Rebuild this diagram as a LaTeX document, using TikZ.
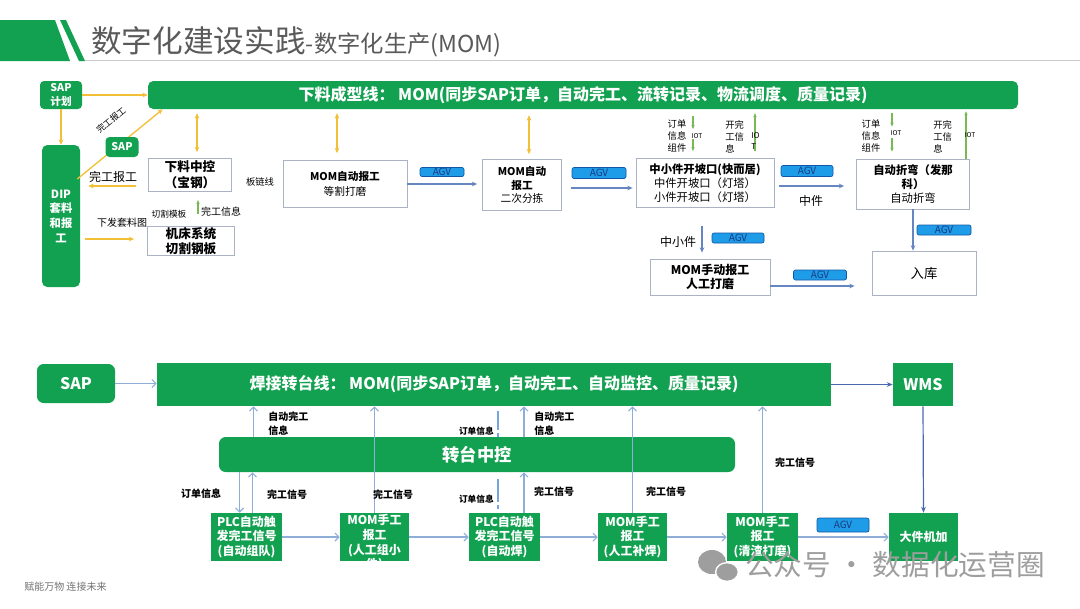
\documentclass[tikz,border=0pt]{standalone}
\usepackage{fontspec}
\setmainfont{Noto Sans CJK SC}
\usepackage{tikz}
\usetikzlibrary{arrows.meta,calc}
\definecolor{mgreen}{HTML}{12A150}
\definecolor{myellow}{HTML}{F2C037}
\definecolor{mblue}{HTML}{6586C0}
\definecolor{lblue}{HTML}{8EAED8}
\definecolor{dblue}{HTML}{4A68B0}
\definecolor{agvfill}{HTML}{1E9CE8}
\definecolor{agvline}{HTML}{1258A8}
\definecolor{agvtext}{HTML}{1A3A80}
\definecolor{boxline}{HTML}{A9B3C4}
\definecolor{iotgreen}{HTML}{78B956}
\definecolor{titlegrey}{HTML}{5A5A5A}
\definecolor{exblue}{HTML}{79A6DA}
\colorlet{footgrey}{black!55}
\colorlet{markgrey}{black!38}

\begin{document}
\begin{tikzpicture}[x=0.75pt,y=-0.75pt,
    gbox/.style={fill=mgreen,text=white,align=center,inner sep=0pt,
                 font=\bfseries\fontsize{9}{11}\selectfont},
    wbox/.style={draw=boxline,line width=0.6pt,fill=white,align=center,inner sep=0pt,
                 font=\fontsize{8.5}{10.5}\selectfont},
    sz/.style 2 args={minimum width=#1*0.75pt,minimum height=#2*0.75pt},
    agv/.style={fill=agvfill,draw=agvline,line width=0.5pt,rounded corners=1.5pt,
                text=agvtext,inner sep=0pt,font=\fontsize{7.5}{8}\selectfont},
    lbl/.style={align=left,inner sep=0pt,font=\fontsize{7}{9}\selectfont},
    blbl/.style={align=left,inner sep=0pt,font=\bfseries\fontsize{7.5}{10}\selectfont},
    yarr/.style={draw=myellow,line width=1pt,-{Stealth[length=4pt,width=3.5pt]}},
    ybi/.style={draw=myellow,line width=1pt,
                {Stealth[length=4pt,width=3.5pt]}-{Stealth[length=4pt,width=3.5pt]}},
    barr/.style={draw=mblue,line width=0.9pt,-{Stealth[length=4pt,width=3.5pt]}},
    garr/.style={draw=iotgreen,line width=0.8pt,-{Stealth[length=3pt,width=2.5pt]}},
    larr/.style={draw=lblue,line width=0.8pt,-{Straight Barb[length=3pt,width=6pt]}},
    darr/.style={draw=dblue,line width=0.9pt,-{Stealth[length=4.5pt,width=3.5pt]}},
    excl/.style={draw=exblue,line width=2.2pt}]
    \useasboundingbox (0,0) rectangle (1080,608);
    \fill[white] (0,0) rectangle (1080,608);

    \fill[mgreen] (0,20) -- (55,20) -- (70,61) -- (0,61) -- cycle;
    \fill[mgreen] (60,20) -- (66,20) -- (85,61) -- (79,61) -- cycle;
    \draw[black!20,line width=0.6pt] (85,60) -- (1080,60);
    \node[anchor=base west,text=titlegrey,inner sep=0pt] (title) at (91,52)
        {{\fontsize{23}{25}\selectfont 数字化建设实践}{\fontsize{17.5}{19}\selectfont -数字化生产(MOM)}};

    \node[gbox,sz={42}{28},rounded corners=3pt,font=\bfseries\fontsize{8}{10}\selectfont] (sapplan) at (61,95) {SAP\\计划};
    \node[gbox,sz={870}{28},rounded corners=4pt,font=\bfseries\fontsize{12}{14}\selectfont] (line1) at (583,95)
        {下料成型线：\ MOM(同步SAP订单，自动完工、流转记录、物流调度、质量记录)};
    \node[gbox,sz={38}{142},rounded corners=4pt,font=\bfseries\fontsize{8.5}{11}\selectfont] (dip) at (61,216) {DIP\\套料\\和报\\工};
    \draw[yarr] (sapplan.east) -- (sapplan.east -| line1.west);
    \draw[yarr] (sapplan.south) -- (dip.north);
    \draw[yarr] ($(dip.east)+(-3,-37)$) -- ($(line1.south west)+(15,0)$);
    \node[gbox,sz={33}{20},rounded corners=3pt,font=\bfseries\fontsize{8}{10}\selectfont] (sap1) at (122,147) {SAP};
    \node[lbl,rotate=39,font=\fontsize{6.5}{7}\selectfont] (lwg1) at (111,120) {完工报工};

    \node[wbox,sz={83}{33},font=\bfseries\fontsize{9.5}{12}\selectfont] (xlzk) at (190,175) {下料中控\\（宝钢）};
    \node[wbox,sz={87}{29},font=\bfseries\fontsize{9.5}{11}\selectfont] (jcxt) at (191,241) {机床系统\\切割钢板};
    \node[wbox,sz={124}{47},font=\fontsize{8}{11}\selectfont] (mom1) at (345,184) {\textbf{MOM自动报工}\\等割打磨};
    \node[wbox,sz={79}{51},font=\fontsize{8}{10}\selectfont] (mom2) at (522,185) {\textbf{MOM自动}\\\textbf{报工}\\二次分拣};
    \node[wbox,sz={138}{49}] (kpk) at (705,183) {\textbf{中小件开坡口(快而居)}\\中件开坡口（灯塔）\\小件开坡口（灯塔）};
    \node[wbox,sz={113}{50}] (zwq) at (913,184) {\textbf{自动折弯（发那}\\\textbf{科）}\\自动折弯};
    \node[wbox,sz={104}{44},font=\fontsize{10}{12}\selectfont] (ruku) at (924,273) {入库};
    \node[wbox,sz={120}{36},font=\bfseries\fontsize{9}{11}\selectfont] (mom3) at (710,277) {MOM手动报工\\人工打磨};

    \draw[ybi] ($(xlzk.north)+(7,-6)$) -- ($(xlzk.north |- line1.south)+(7,4)$);
    \draw[ybi] ($(mom1.north)+(-8,-7)$) -- ($(mom1.north |- line1.south)+(-8,4)$);
    \draw[ybi] ($(mom2.north)+(7,-5)$) -- ($(mom2.north |- line1.south)+(7,6)$);
    \draw[yarr] ($(xlzk.west)+(-12,11)$) -- ($(dip.east |- xlzk.west)+(8,11)$);
    \draw[yarr] ($(dip.east |- jcxt.west)+(5,-2)$) -- ($(jcxt.west)+(-13,-2)$);
    \draw[garr] ($(jcxt.north)+(7,-12)$) -- ($(jcxt.north)+(7,-26)$);
    \node[lbl,font=\fontsize{9}{10}\selectfont] (lwg2) at (113,177) {完工报工};
    \node[lbl,font=\fontsize{7.5}{9}\selectfont] (lxf) at (122,223) {下发套料图};
    \node[lbl,font=\fontsize{6.5}{8}\selectfont] (lqg) at (169,214) {切割模板};
    \node[lbl,font=\fontsize{7.5}{9}\selectfont] (lwx) at (221,212) {完工信息};
    \node[lbl] (lblx) at (260,182) {板链线};

    \node[agv,sz={44}{9}] (agv1) at (442,172) {AGV};
    \node[agv,sz={54}{11}] (agv2) at (599,173) {AGV};
    \node[agv,sz={52}{11}] (agv3) at (807,171) {AGV};
    \node[agv,sz={52}{10}] (agv4) at (738,238) {AGV};
    \node[agv,sz={54}{10}] (agv5) at (944,230) {AGV};
    \node[agv,sz={53}{10}] (agv6) at (820,275) {AGV};
    \draw[barr] (mom1.east) -- ($(mom1.east -| mom2.west)+(-5,0)$);
    \draw[barr] ($(mom2.east)+(9,3)$) -- ($(mom2.east -| kpk.west)+(-3,3)$);
    \draw[barr] ($(kpk.east)+(5,3)$) -- ($(kpk.east -| zwq.west)+(-12,3)$);
    \draw[barr] ($(kpk.south)+(-3,18)$) -- ($(kpk.south |- mom3.north)+(-3,-6)$);
    \draw[barr] ($(mom3.east)+(0,9)$) -- ($(mom3.east -| ruku.west)+(-17,9)$);
    \draw[barr] (zwq.south) -- (zwq.south |- ruku.north);
    \node[lbl,font=\fontsize{9}{10}\selectfont] (lzj) at (811,201) {中件};
    \node[lbl,font=\fontsize{9}{10}\selectfont] (lzxj) at (678,242) {中小件};

    \draw[garr] ($(kpk.north)+(-12,-42)$) -- ($(kpk.north)+(-12,-29)$);
    \draw[garr] ($(kpk.north)+(-12,-19)$) -- ($(kpk.north)+(-12,-7)$);
    \draw[garr] ($(kpk.north)+(50,-7)$) -- ($(kpk.north)+(50,-45)$);
    \draw[garr] ($(zwq.north)+(-21,-46)$) -- ($(zwq.north)+(-21,-32)$);
    \draw[garr] ($(zwq.north)+(-21,-21)$) -- ($(zwq.north)+(-21,-7)$);
    \draw[garr] ($(zwq.north)+(53,0)$) -- ($(zwq.north |- line1.south)+(53,2)$);
    \node[lbl] (ldd1) at (677,136) {订单\\信息\\组件};
    \node[lbl,font=\fontsize{5}{6}\selectfont] (liot1) at (697,136) {IOT};
    \node[lbl,anchor=west] (lkw1) at (725,137) {开完\\工信\\息};
    \node[lbl,anchor=west,font=\fontsize{6}{8}\selectfont] (liot2) at (751,141) {IO\\T};
    \node[lbl] (ldd2) at (871,136) {订单\\信息\\组件};
    \node[lbl,font=\fontsize{5}{6}\selectfont] (liot3) at (896,133) {IOT};
    \node[lbl,anchor=west] (lkw2) at (933,137) {开完\\工信\\息};
    \node[lbl,font=\fontsize{5}{6}\selectfont] (liot4) at (970,135) {IOT};

    \node[gbox,sz={78}{39},rounded corners=5pt,font=\bfseries\fontsize{12}{14}\selectfont] (sap2) at (76,383.5) {SAP};
    \node[gbox,sz={674}{43},font=\bfseries\fontsize{12}{14}\selectfont] (line2) at (494,384.5)
        {焊接转台线：\ MOM(同步SAP订单，自动完工、自动监控、质量记录)};
    \node[gbox,sz={60}{43},font=\bfseries\fontsize{12}{14}\selectfont] (wms) at (923,384.5) {WMS};
    \node[gbox,sz={516}{35},rounded corners=5pt,font=\bfseries\fontsize{13}{14}\selectfont] (zk) at (477,454.5) {转台中控};
    \node[gbox,sz={71}{48}] (b1) at (246.5,537) {PLC自动触\\发完工信号\\(自动组队)};
    \node[gbox,sz={69}{48}] (b2) at (374.5,537) {};
    \node[text=white,align=center,inner sep=0pt,font=\bfseries\fontsize{9}{11}\selectfont] (b2t) at (374.5,543) {MOM手工\\报工\\(人工组小\\件)};
    \node[gbox,sz={71}{48}] (b3) at (504.5,537) {PLC自动触\\发完工信号\\(自动焊)};
    \node[gbox,sz={69}{48}] (b4) at (632.5,537) {MOM手工\\报工\\(人工补焊)};
    \node[gbox,sz={71}{48}] (b5) at (762.5,537) {MOM手工\\报工\\(清渣打磨)};
    \node[gbox,sz={69}{48}] (b6) at (923.5,537) {大件机加};
    \node[agv,sz={52}{14}] (agv7) at (843,525) {AGV};

    \draw[larr] (sap2.east) -- (sap2.east -| line2.west);
    \draw[darr] (line2.east) -- (wms.west);
    \draw[darr] (wms.south) -- (b6.north);
    \draw[larr] ($(zk.north -| b1.north)+(7,0)$) -- ($(line2.south -| b1.north)+(7,0)$);
    \draw[larr] (b2.north) -- (b2.north |- line2.south);
    \draw[larr] ($(zk.north -| b3.north)+(19.5,0)$) -- ($(line2.south -| b3.north)+(19.5,0)$);
    \draw[larr] (b4.north) -- (b4.north |- line2.south);
    \draw[larr] (b5.north) -- (b5.north |- line2.south);
    \draw[larr] ($(zk.south -| b1.north)+(-7,0)$) -- ($(b1.north)+(-7,0)$);
    \draw[larr] ($(b1.north)+(6,0)$) -- ($(zk.south -| b1.north)+(6,0)$);
    \draw[larr] ($(b3.north)+(19.5,0)$) -- ($(zk.south -| b3.north)+(19.5,0)$);
    \draw[larr] (b1.east) -- (b2.west);
    \draw[larr] (b2.east) -- (b3.west);
    \draw[larr] (b3.east) -- (b4.west);
    \draw[larr] (b4.east) -- (b5.west);
    \draw[larr] (b5.east) -- (b6.west);
    \draw[excl] ($(line2.south -| b3.north)+(-6.5,5)$) -- ++(0,19) ++(0,3) -- ++(0,4);
    \draw[excl] ($(zk.south -| b3.north)+(-6.5,7)$) -- ++(0,23) ++(0,3) -- ++(0,4);

    \node[blbl,anchor=west] (lzd1) at (268,423.5) {自动完工\\信息};
    \node[blbl,anchor=west] (lzd2) at (534,423.5) {自动完工\\信息};
    \node[blbl,anchor=east,font=\bfseries\fontsize{6.5}{8}\selectfont] (ldd3) at (494,431) {订单信息};
    \node[blbl,anchor=east,font=\bfseries\fontsize{6.5}{8}\selectfont] (ldd4) at (494,499) {订单信息};
    \node[blbl] (ldd5) at (201,494) {订单信息};
    \node[blbl] (lxh1) at (287,495) {完工信号};
    \node[blbl] (lxh2) at (393,495) {完工信号};
    \node[blbl] (lxh3) at (554,492) {完工信号};
    \node[blbl] (lxh4) at (666,492) {完工信号};
    \node[blbl] (lxh5) at (795,463) {完工信号};

    \node[anchor=west,text=footgrey,inner sep=0pt,font=\fontsize{7.5}{9}\selectfont] (foot) at (24,587) {赋能万物\ 连接未来};
    \fill[markgrey] (712,562) ellipse (10.5pt and 9pt);
    \fill[markgrey,draw=white,line width=1pt] (727,572) ellipse (8.5pt and 7pt);
    \node[anchor=west,text=markgrey,inner sep=0pt,font=\fontsize{21.5}{24}\selectfont] (wmark) at (745,565) {公众号 · 数据化运营圈};
\end{tikzpicture}
\end{document}
